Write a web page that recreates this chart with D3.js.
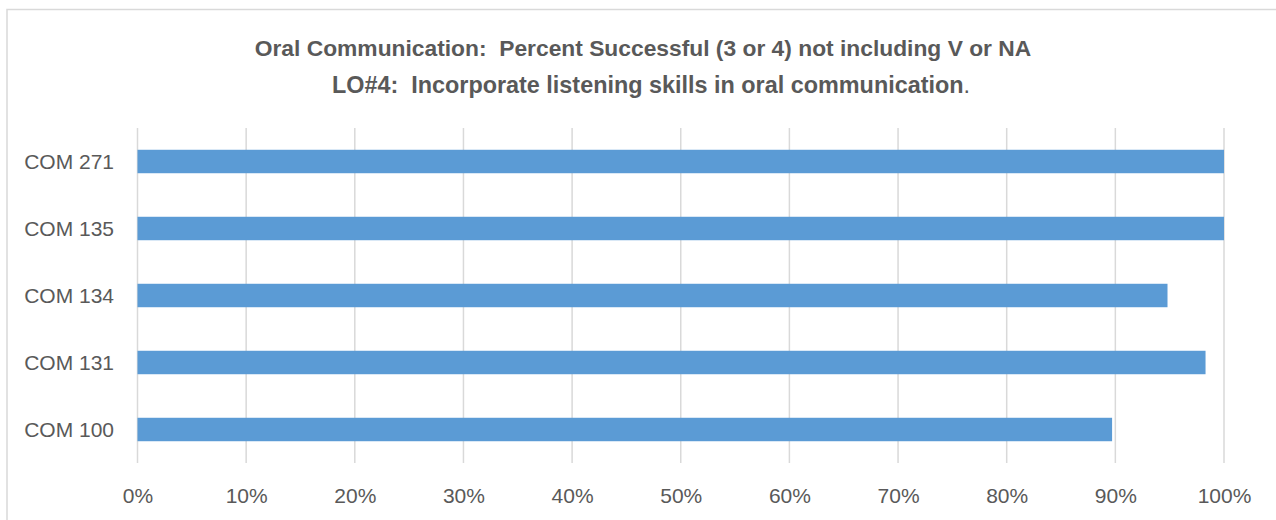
<!DOCTYPE html>
<html>
<head>
<meta charset="utf-8">
<script src="https://cdn.jsdelivr.net/npm/d3@7"></script>
<style>
  html, body { margin: 0; padding: 0; background: #fff; }
  svg { display: block; }
  text { font-family: "Liberation Sans", Arial, sans-serif; fill: #595959; white-space: pre; }
</style>
</head>
<body>
<script>
// Course sections, listed bottom to top as on the chart
const categories = ["COM 100", "COM 131", "COM 134", "COM 135", "COM 271"];
// Share of students rated successful (3 or 4)
const successRate = [0.897, 0.983, 0.948, 1.0, 1.0];
// Axis tick values
const tickValues = [0, 0.1, 0.2, 0.3, 0.4, 0.5, 0.6, 0.7, 0.8, 0.9, 1.0];
const titleLine1 = "Oral Communication:  Percent Successful (3 or 4) not including V or NA";
const titleLine2Bold = "LO#4:  Incorporate listening skills in oral communication";
const titleLine2Tail = ".";

const W = 1276, H = 520;
const plot = { left: 137.5, right: 1224, top: 128, bottom: 463 };

const svg = d3.select("body").append("svg")
  .attr("width", W).attr("height", H);

// Chart frame
svg.append("rect")
  .attr("x", 7).attr("y", 9.5)
  .attr("width", W + 20).attr("height", H + 20)
  .attr("fill", "#fff")
  .attr("stroke", "#D9D9D9").attr("stroke-width", 1.5);

const x = d3.scaleLinear().domain([0, 1]).range([plot.left, plot.right]);
const y = d3.scaleBand()
  .domain(categories.slice().reverse())
  .range([plot.top, plot.bottom])
  .paddingInner(0.65)
  .paddingOuter(0.325);

// Vertical gridlines
svg.append("g")
  .selectAll("line")
  .data(tickValues)
  .join("line")
  .attr("x1", d => x(d)).attr("x2", d => x(d))
  .attr("y1", plot.top).attr("y2", plot.bottom)
  .attr("stroke", "#D9D9D9").attr("stroke-width", 1.5);

// Bars
svg.append("g")
  .selectAll("rect")
  .data(categories.map((c, i) => ({ c, v: successRate[i] })))
  .join("rect")
  .attr("x", x(0))
  .attr("y", d => y(d.c))
  .attr("width", d => x(d.v) - x(0))
  .attr("height", y.bandwidth())
  .attr("fill", "#5B9BD5");

// X axis labels
const xAxis = d3.axisBottom(x)
  .tickValues(tickValues)
  .tickFormat(d3.format(".0%"))
  .tickSize(0)
  .tickPadding(0);
const gx = svg.append("g")
  .attr("transform", `translate(0,${plot.bottom})`)
  .call(xAxis);
gx.select(".domain").remove();
gx.selectAll("text")
  .attr("dy", null)
  .attr("y", 39.5)
  .attr("font-size", 21)
  .attr("fill", "#595959");

// Y axis labels
const yAxis = d3.axisLeft(y).tickSize(0).tickPadding(0);
const gy = svg.append("g")
  .attr("transform", `translate(${plot.left - 23.5},0)`)
  .call(yAxis);
gy.select(".domain").remove();
gy.selectAll("text")
  .attr("dy", "0.36em")
  .attr("font-size", 21)
  .attr("fill", "#595959");
svg.selectAll(".tick text").attr("font-family", null);

// Title
const title = svg.append("g").attr("font-weight", "bold");
title.append("text")
  .attr("x", 643).attr("y", 55.5)
  .attr("text-anchor", "middle")
  .attr("font-size", 22.8)
  .text(titleLine1);
const t2 = title.append("text")
  .attr("x", 651).attr("y", 93)
  .attr("text-anchor", "middle")
  .attr("font-size", 23.4);
t2.append("tspan").text(titleLine2Bold);
t2.append("tspan").attr("font-weight", "normal").text(titleLine2Tail);
</script>
</body>
</html>
